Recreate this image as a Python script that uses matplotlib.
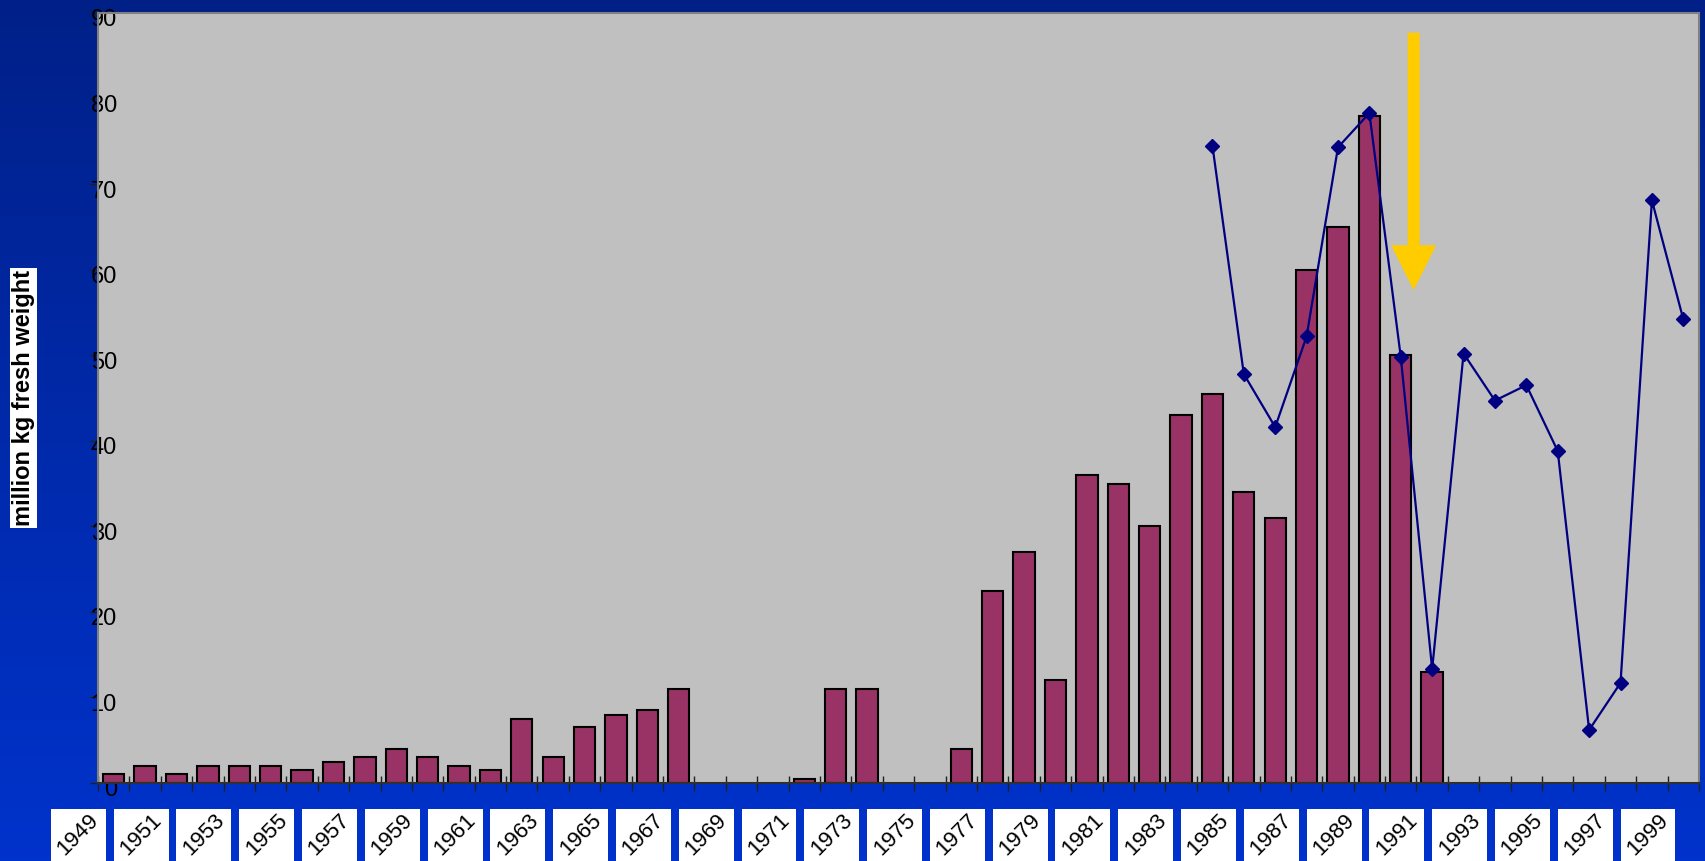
import numpy as np
import matplotlib
matplotlib.use("Agg")
import matplotlib.pyplot as plt
from matplotlib.patches import Rectangle, FancyArrowPatch, ArrowStyle
from matplotlib.transforms import blended_transform_factory, ScaledTranslation

plt.rcParams['font.family'] = ['Liberation Sans', 'DejaVu Sans']

# data
years = list(range(1949, 2000))
bar_years = list(range(1949, 1992))
bar_values = [1, 2, 1, 2, 2, 2, 1.5, 2.5, 3, 4, 3, 2, 1.5, 7.5, 3, 6.5, 8, 8.5, 11,
              np.nan, np.nan, np.nan, 0.5, 11, 11, np.nan, np.nan, 4, 22.5, 27, 12,
              36, 35, 30, 43, 45.5, 34, 31, 60, 65, 78, 50, 13]
line_years = list(range(1984, 2000))
line_values = [74.5, 47.8, 41.6, 52.2, 74.3, 78.3, 49.8, 13.3, 50.2, 44.7, 46.5,
               38.8, 6.2, 11.7, 68.1, 54.2]
label_years = years[::2]
y_ticks = list(range(0, 91, 10))
y_label = "million kg fresh weight"

fig = plt.figure(figsize=(17.05, 8.61), dpi=100)

# blue gradient background
bg = fig.add_axes([0, 0, 1, 1], zorder=-10)
top = np.array([0x00, 0x20, 0x88]) / 255
bot = np.array([0x00, 0x33, 0xcc]) / 255
t = np.linspace(0, 1, 256)[:, None]
grad = top[None, None, :] * (1 - t[:, :, None]) + bot[None, None, :] * t[:, :, None]
bg.imshow(grad, aspect='auto', extent=[0, 1, 0, 1])
bg.axis('off')

ax = fig.add_axes([98 / 1705, 78 / 861, 1601 / 1705, 770 / 861])
ax.set_facecolor('#c0c0c0')

x_bar = [years.index(y) for y in bar_years]
x_line = [years.index(y) for y in line_years]

ax.bar(x_bar, bar_values, width=0.68, color='#993366', edgecolor='black',
       linewidth=1.5, zorder=2)
ax.plot(x_line, line_values, color='#000080', linewidth=1.6, marker='D',
        markersize=7.5, zorder=3)

ax.set_xlim(-0.5, len(years) - 0.5)
ax.set_ylim(0, 90)

for side in ['top', 'right', 'left']:
    ax.spines[side].set_color('#808080')
    ax.spines[side].set_linewidth(1.5)
ax.spines['bottom'].set_color('#303030')
ax.spines['bottom'].set_linewidth(1.5)

# y axis: labels sit on top of the axis line
ax.set_yticks(y_ticks)
ax.tick_params(axis='y', direction='out', length=5.8, width=1, color='#202020',
               labelsize=17, pad=-19.4)
for lab in ax.get_yticklabels():
    lab.set_transform(lab.get_transform() + ScaledTranslation(0, -0.05, fig.dpi_scale_trans))

# x axis: tick marks between categories, labels drawn in white boxes
ax.set_xticks(np.arange(-0.5, len(years), 1))
ax.set_xticklabels([])
ax.tick_params(axis='x', direction='inout', length=10.8, width=1, color='#202020')

trans = blended_transform_factory(ax.transData, ax.transAxes)
for yr in label_years:
    i = years.index(yr)
    ax.add_patch(Rectangle((i - 2.0, -0.15), 1.75, 0.15 - 0.0338, transform=trans,
                           facecolor='white', edgecolor='none', clip_on=False))
    ax.text(i - 1.13, -0.067, str(yr), transform=trans, rotation=45,
            ha='center', va='center', fontsize=16, rotation_mode='anchor',
            clip_on=False)

fig.text(23.5 / 1705, 1 - 398 / 861, y_label, rotation=90,
         fontsize=17, fontweight='bold', ha='center', va='center',
         bbox=dict(facecolor='white', edgecolor='none', pad=1.5))

# yellow arrow
arrow = FancyArrowPatch((41.41, 87.7), (41.41, 57.6),
                        arrowstyle=ArrowStyle.Simple(head_length=32.4, head_width=32.4,
                                                     tail_width=8.6),
                        mutation_scale=1, shrinkA=0, shrinkB=0,
                        color='#ffcc00', linewidth=0, zorder=4)
ax.add_patch(arrow)

fig.savefig('out.png', dpi=100)
